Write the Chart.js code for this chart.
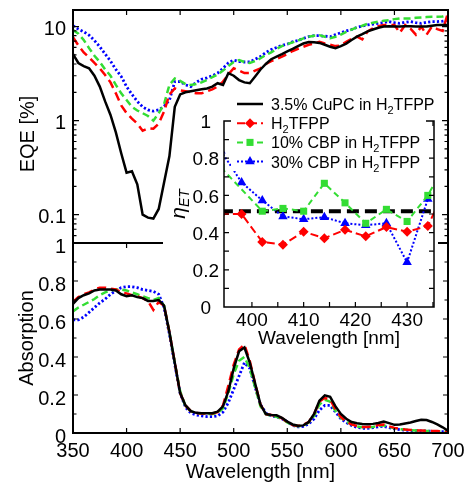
<!DOCTYPE html>
<html>
<head>
<meta charset="utf-8">
<script src="https://cdn.jsdelivr.net/npm/chart.js@4.4.1/dist/chart.umd.min.js"></script>
<style>
html,body{margin:0;padding:0;background:#fff;}
#wrap{position:relative;width:468px;height:487px;overflow:hidden;background:#fff;}
#wrap canvas{position:absolute;left:0;top:0;}
</style>
</head>
<body>
<div id="wrap">
<canvas id="cTop" width="468" height="487"></canvas>
<canvas id="cBot" width="468" height="487"></canvas>
<canvas id="cIn" width="468" height="487"></canvas>
</div>
<script>
// ---------------- DATA ----------------
const wavelength = [350,355,360,365,370,375,380,385,390,395,
  400,405,410,415,420,425,430,435,440,445,
  450,455,460,465,470,475,480,485,490,495,
  500,505,510,515,520,525,530,535,540,545,
  550,555,560,565,570,575,580,585,590,595,
  600,605,610,615,620,625,630,635,640,645,
  650,655,660,665,670,675,680,685,690,695,
  700];

const seriesNames = ['3.5% CuPC in H₂TFPP','H₂TFPP','10% CBP in H₂TFPP','30% CBP in H₂TFPP'];

// EQE [%] (top panel, log scale)
const eqeCuPC = [5.1,4.1,3.8,3.6,3.0,2.3,1.6,1.15,0.75,0.45,
  0.28,0.29,0.21,0.1,0.093,0.091,0.115,0.22,0.42,1.4,
  1.9,2.0,2.05,2.1,2.15,2.2,2.3,2.5,2.4,3.2,
  3.0,2.7,2.55,2.5,2.95,3.5,4.0,4.5,4.8,5.1,
  5.45,5.8,6.2,6.6,6.85,6.8,6.7,6.4,6.1,5.9,
  6.2,6.6,7.2,7.8,8.3,8.9,9.3,9.7,10.0,10.1,
  10.0,10.0,10.1,10.1,10.0,10.0,10.0,10.2,10.4,10.4,
  10.4];
const eqeH2TFPP = [7.7,6.3,5.3,4.7,4.1,3.6,3.05,2.55,1.95,1.45,
  1.2,1.05,0.93,0.78,0.83,0.82,0.93,1.25,1.9,2.2,
  2.1,2.05,2.0,1.95,1.95,2.05,2.15,2.3,2.6,3.1,
  3.6,3.4,3.2,3.2,3.4,3.6,4.0,4.3,4.5,4.8,
  5.1,5.5,5.8,6.1,6.4,6.6,6.9,6.6,6.4,6.2,
  6.3,6.9,7.4,7.8,7.3,8.9,9.6,10.1,10.4,10.4,
  10.4,8.6,10.4,9.5,8.2,10.0,8.2,10.0,9.4,9.0,
  14];
const eqeCBP10 = [9.2,8.4,7.2,5.9,4.9,4.2,3.5,3.0,2.4,1.95,
  1.66,1.4,1.28,1.2,1.12,1.0,1.2,1.5,2.4,2.8,
  2.65,2.45,2.4,2.45,2.55,2.7,2.9,3.1,3.4,3.8,
  4.2,4.4,4.2,4.1,4.3,4.6,5.0,5.3,5.8,6.2,
  6.5,6.8,7.1,7.5,7.8,8.0,8.1,7.8,7.5,7.8,
  8.2,8.8,9.3,9.8,10.2,10.7,11.0,11.3,11.5,11.7,
  12.0,12.2,12.2,12.2,12.4,12.5,12.6,12.7,12.7,12.8,
  13.3];
const eqeCBP30 = [10.2,9.4,8.8,8.1,7.1,6.1,5.1,4.3,3.5,2.95,
  2.3,1.9,1.6,1.4,1.3,1.26,1.3,1.42,1.65,2.6,
  2.6,2.4,2.3,2.55,2.75,2.85,3.0,3.2,3.6,4.1,
  4.4,4.25,4.2,4.2,4.5,4.8,5.3,5.7,6.0,6.3,
  6.5,6.9,7.1,7.5,7.8,8.0,8.0,7.9,7.8,8.2,
  8.6,9.0,9.3,9.8,10.1,10.4,10.6,10.8,11.0,11.3,
  11.0,10.8,11.1,11.3,11.0,10.8,11.1,11.3,11.3,11.4,
  11.7];

// Absorption (bottom panel)
const absCuPC = [0.68,0.71,0.725,0.735,0.75,0.755,0.755,0.755,0.75,0.73,
  0.72,0.725,0.715,0.71,0.695,0.695,0.70,0.67,0.53,0.37,
  0.21,0.145,0.115,0.106,0.104,0.104,0.104,0.112,0.14,0.22,
  0.34,0.43,0.45,0.37,0.26,0.15,0.1,0.095,0.093,0.08,
  0.06,0.045,0.038,0.04,0.058,0.1,0.17,0.198,0.19,0.14,
  0.1,0.075,0.058,0.051,0.048,0.046,0.048,0.053,0.06,0.052,
  0.043,0.045,0.05,0.055,0.063,0.07,0.068,0.058,0.045,0.03,
  0.012];
const absH2TFPP = [0.69,0.715,0.73,0.74,0.755,0.765,0.765,0.76,0.755,0.74,
  0.735,0.725,0.72,0.71,0.695,0.648,0.69,0.67,0.53,0.37,
  0.21,0.145,0.115,0.105,0.103,0.103,0.103,0.11,0.145,0.25,
  0.36,0.44,0.465,0.38,0.26,0.15,0.1,0.095,0.09,0.078,
  0.058,0.042,0.037,0.043,0.058,0.1,0.165,0.185,0.175,0.125,
  0.085,0.06,0.045,0.037,0.032,0.032,0.035,0.042,0.045,0.035,
  0.027,0.022,0.018,0.016,0.014,0.013,0.012,0.011,0.01,0.009,
  0.007];
const absCBP10 = [0.64,0.66,0.675,0.69,0.705,0.725,0.74,0.75,0.755,0.755,
  0.75,0.74,0.73,0.72,0.71,0.70,0.71,0.67,0.53,0.37,
  0.22,0.14,0.115,0.105,0.102,0.1,0.1,0.105,0.13,0.21,
  0.31,0.38,0.40,0.34,0.24,0.14,0.1,0.09,0.085,0.075,
  0.055,0.04,0.035,0.04,0.055,0.09,0.15,0.175,0.165,0.115,
  0.08,0.06,0.045,0.035,0.03,0.03,0.032,0.038,0.04,0.032,
  0.025,0.02,0.018,0.015,0.013,0.012,0.011,0.01,0.009,0.008,
  0.006];
const absCBP30 = [0.595,0.595,0.61,0.635,0.66,0.685,0.705,0.73,0.75,0.765,
  0.77,0.77,0.765,0.755,0.75,0.745,0.73,0.66,0.52,0.36,
  0.21,0.135,0.105,0.095,0.09,0.086,0.086,0.09,0.11,0.16,
  0.23,0.30,0.37,0.34,0.24,0.15,0.105,0.09,0.085,0.075,
  0.06,0.04,0.032,0.035,0.048,0.075,0.12,0.145,0.145,0.11,
  0.075,0.055,0.04,0.03,0.025,0.025,0.028,0.033,0.035,0.028,
  0.022,0.018,0.015,0.013,0.012,0.011,0.01,0.009,0.008,0.007,
  0.006];

// Inset: energy transfer efficiency
const insetWavelength = [394,398,402,406,410,414,418,422,426,430,434,438];
const etaH2TFPP = [0.50,0.50,0.35,0.335,0.405,0.37,0.415,0.38,0.43,0.405,0.435,0.67];
const etaCBP10  = [0.75,null,0.515,0.53,0.515,0.665,0.56,0.45,0.525,0.46,0.60,0.80];
const etaCBP30  = [0.84,0.67,0.573,0.487,0.472,0.483,0.45,0.44,0.45,0.24,0.58,null];
const etaCuPCLevel = [0.515,0.515];

// tick labels
const xTickValues = [350,400,450,500,550,600,650,700];
const eqeTickValues = [0.1,1,10];
const absTickValues = [0,0.2,0.4,0.6,0.8,1];
const etaTickValues = [0,0.2,0.4,0.6,0.8,1];
const insetXTickValues = [400,410,420,430];

// ---------------- STYLE ----------------
const FONT = "'Liberation Sans', Arial, Helvetica, sans-serif";
Chart.defaults.font.family = FONT;
Chart.defaults.color = '#000';
Chart.defaults.animation = false;

const COLORS = ['#000000','#ff0000','#33dd33','#0000ff'];
const MAIN_W = [2.5,2.5,2.5,2.8];
const MAIN_DASH = [[],[9,5],[7,4],[2.2,2.2]];
const IN_W = [4,2,2,2];
const IN_DASH = [[12,6],[8,4],[6,4],[2,2]];
const MARK = [null,'rectRot','rect','triangle'];
const MARK_R = [0,5,5,5.5];

function pts(xs, ys){ return xs.map((x,i)=>({x:x, y:ys[i]})); }
function fixAxis(w,h){ return s => { if(w!=null) s.width=w; if(h!=null) s.height=h; s.paddingLeft=0; s.paddingRight=0; s.paddingTop=0; s.paddingBottom=0; }; }
function setTicks(vals){ return s => { s.ticks = vals.map(v=>({value:v})); }; }
function mainSets(series){
  return series.map((d,i)=>({label:seriesNames[i], data:pts(wavelength,d), borderColor:COLORS[i], backgroundColor:COLORS[i],
    borderWidth:MAIN_W[i], borderDash:MAIN_DASH[i], pointRadius:0, tension:0, fill:false, clip:0}));
}
const noGrid = {display:false, drawTicks:false};

// ---------------- TOP PANEL (EQE) ----------------
const topDecor = {id:'topDecor', afterDraw(chart){
  const {ctx, chartArea:a, scales:{x,y}} = chart;
  ctx.save(); ctx.strokeStyle='#000'; ctx.lineWidth=2;
  ctx.beginPath();
  ctx.moveTo(a.left,a.bottom); ctx.lineTo(a.left,a.top); ctx.lineTo(a.right,a.top); ctx.lineTo(a.right,a.bottom);
  ctx.moveTo(a.left,a.bottom); ctx.lineTo(a.left+90,a.bottom);
  ctx.moveTo(a.right-10,a.bottom); ctx.lineTo(a.right,a.bottom);
  ctx.stroke();
  ctx.lineWidth=1.2; ctx.beginPath();
  for(let d=-2; d<=1; d++){ for(let m=1; m<=9; m++){
    const v=m*Math.pow(10,d); if(v<=y.min||v>=y.max) continue;
    const py=y.getPixelForValue(v); const L=(m===1)?6:3.5;
    ctx.moveTo(a.left,py); ctx.lineTo(a.left+L,py); ctx.moveTo(a.right,py); ctx.lineTo(a.right-L,py);
  }}
  xTickValues.forEach(v=>{ if(v<=x.min||v>=x.max) return; const px=x.getPixelForValue(v); ctx.moveTo(px,a.top); ctx.lineTo(px,a.top+5); });
  ctx.stroke();
  // y title
  ctx.translate(28,134); ctx.rotate(-Math.PI/2);
  ctx.fillStyle='#000'; ctx.font='20px '+FONT; ctx.textAlign='center'; ctx.textBaseline='middle';
  ctx.fillText('EQE [%]',0,0);
  ctx.restore();
}};

new Chart(document.getElementById('cTop'), {
  type:'line',
  data:{datasets: mainSets([eqeCuPC,eqeH2TFPP,eqeCBP10,eqeCBP30])},
  options:{
    responsive:false, animation:false, events:[],
    layout:{padding:{left:15.5, top:10, right:20, bottom:244}},
    plugins:{legend:{display:false}, tooltip:{enabled:false}},
    scales:{
      x:{type:'linear', min:350, max:700, display:false},
      y:{type:'logarithmic', min:0.05, max:15, afterFit:fixAxis(57.5,null), afterBuildTicks:setTicks(eqeTickValues),
         grid:noGrid, border:{display:false},
         ticks:{padding:7, labelOffset:2.5, font:{size:20}, color:'#000', callback:v=>String(v)}}
    }
  },
  plugins:[topDecor]
});

// ---------------- BOTTOM PANEL (Absorption) ----------------
const botDecor = {id:'botDecor', afterDraw(chart){
  const {ctx, chartArea:a, scales:{x,y}} = chart;
  ctx.save(); ctx.strokeStyle='#000'; ctx.lineWidth=2;
  ctx.beginPath();
  ctx.moveTo(a.left,a.top); ctx.lineTo(a.left,a.bottom); ctx.lineTo(a.right,a.bottom); ctx.lineTo(a.right,a.top);
  ctx.stroke();
  ctx.lineWidth=1.2; ctx.beginPath();
  for(let k=1;k<10;k++){ const py=y.getPixelForValue(k/10); const L=(k%2===0)?5:3.5;
    ctx.moveTo(a.left,py); ctx.lineTo(a.left+L,py); ctx.moveTo(a.right,py); ctx.lineTo(a.right-L,py); }
  xTickValues.forEach(v=>{ if(v<=x.min||v>=x.max) return; const px=x.getPixelForValue(v);
    ctx.moveTo(px,a.bottom); ctx.lineTo(px,a.bottom-5);
    if(px<a.left+90){ ctx.moveTo(px,a.top); ctx.lineTo(px,a.top+5); } });
  ctx.stroke();
  ctx.restore();
}};

new Chart(document.getElementById('cBot'), {
  type:'line',
  data:{datasets: mainSets([absCuPC,absH2TFPP,absCBP10,absCBP30])},
  options:{
    responsive:false, animation:false, events:[],
    layout:{padding:{left:15.5, top:243, right:20, bottom:3}},
    plugins:{legend:{display:false}, tooltip:{enabled:false}},
    scales:{
      x:{type:'linear', min:350, max:700, afterFit:fixAxis(null,51), afterBuildTicks:setTicks(xTickValues),
         grid:noGrid, border:{display:false},
         ticks:{padding:6, font:{size:20}, color:'#000', autoSkip:false, maxRotation:0, callback:v=>String(v)},
         title:{display:true, text:'Wavelength [nm]', font:{size:20}, color:'#000', padding:{top:0,bottom:0}}},
      y:{type:'linear', min:0, max:1, afterFit:fixAxis(57.5,null), afterBuildTicks:setTicks(absTickValues),
         grid:noGrid, border:{display:false},
         ticks:{padding:7, labelOffset:4.5, font:{size:20}, color:'#000', callback:v=>String(+v.toFixed(1))},
         title:{display:true, text:'Absorption', font:{size:20}, color:'#000', padding:{top:0,bottom:0}}}
    }
  },
  plugins:[botDecor]
});

// ---------------- INSET (eta_ET) ----------------
function drawSubText(ctx, str, x, y, size){
  const parts = str.split('₂'); let cx = x;
  parts.forEach((p,i)=>{
    ctx.font = size+'px '+FONT; ctx.fillText(p,cx,y); cx += ctx.measureText(p).width;
    if(i<parts.length-1){ const s2=Math.round(size*0.7); ctx.font=s2+'px '+FONT; ctx.fillText('2',cx,y+4); cx += ctx.measureText('2').width; }
  });
}

const insetDecor = {id:'insetDecor', afterDraw(chart){
  const {ctx, chartArea:a, scales:{x,y}} = chart;
  ctx.save(); ctx.strokeStyle='#000'; ctx.lineWidth=1.5;
  ctx.strokeRect(a.left,a.top,a.right-a.left,a.bottom-a.top);
  ctx.lineWidth=1.2; ctx.beginPath();
  for(let k=1;k<10;k++){ const py=y.getPixelForValue(k/10);
    ctx.moveTo(a.left,py); ctx.lineTo(a.left+5,py); ctx.moveTo(a.right,py); ctx.lineTo(a.right-5,py); }
  for(let v=400; v<x.max; v+=5){ const px=x.getPixelForValue(v);
    ctx.moveTo(px,a.bottom); ctx.lineTo(px,a.bottom-5); ctx.moveTo(px,a.top); ctx.lineTo(px,a.top+5); }
  ctx.stroke();

  // legend (white box)
  ctx.fillStyle='#fff';
  ctx.fillRect(a.left+7, a.top-27, (a.right-8)-(a.left+7), 77);
  for(let i=0;i<4;i++){
    const ry = a.top-17+19.2*i;
    const x1=a.left+13, x2=a.left+39, xm=a.left+26;
    ctx.save();
    ctx.strokeStyle=COLORS[i]; ctx.lineWidth=(i===0)?2.5:2; ctx.setLineDash(i===0?[]:IN_DASH[i]);
    ctx.beginPath(); ctx.moveTo(x1,ry); ctx.lineTo(x2,ry); ctx.stroke();
    ctx.setLineDash([]);
    if(MARK[i]){ ctx.fillStyle=COLORS[i]; ctx.strokeStyle=COLORS[i];
      Chart.helpers.drawPoint(ctx,{pointStyle:MARK[i], radius:MARK_R[i], rotation:0, borderWidth:0}, xm, ry); }
    ctx.restore();
    ctx.fillStyle='#000'; ctx.textAlign='left'; ctx.textBaseline='alphabetic';
    drawSubText(ctx, seriesNames[i], a.left+47, ry+6, 16);
  }

  // y title eta_ET
  ctx.translate(a.left-39, (a.top+a.bottom)/2-10); ctx.rotate(-Math.PI/2);
  ctx.fillStyle='#000'; ctx.textBaseline='alphabetic'; ctx.textAlign='left';
  ctx.font='italic 21px '+FONT; const w1=ctx.measureText('η').width;
  ctx.font='italic 14px '+FONT; const w2=ctx.measureText('ET').width;
  const sx=-(w1+w2)/2;
  ctx.font='italic 21px '+FONT; ctx.fillText('η',sx,0);
  ctx.font='italic 14px '+FONT; ctx.fillText('ET',sx+w1,4);
  ctx.restore();
}};

const insetSeries = [
  pts([insetWavelength[0], insetWavelength[insetWavelength.length-1]], etaCuPCLevel),
  pts(insetWavelength, etaH2TFPP),
  pts(insetWavelength, etaCBP10),
  pts(insetWavelength, etaCBP30)
];
const insetSets = insetSeries.map((d,i)=>({
  label:seriesNames[i], data:d, borderColor:COLORS[i], backgroundColor:COLORS[i],
  borderWidth:IN_W[i], borderDash:IN_DASH[i], pointStyle:MARK[i]||'circle', pointRadius:MARK_R[i],
  pointBorderWidth:0, pointBackgroundColor:COLORS[i], spanGaps:true, tension:0, fill:false, clip:0,
  order:(i===0)?5:i
}));

new Chart(document.getElementById('cIn'), {
  type:'line',
  data:{datasets: insetSets},
  options:{
    responsive:false, animation:false, events:[],
    layout:{padding:{left:174, top:121, right:34, bottom:137}},
    plugins:{legend:{display:false}, tooltip:{enabled:false}},
    scales:{
      x:{type:'linear', min:394.6, max:435.2, afterFit:fixAxis(null,43), afterBuildTicks:setTicks(insetXTickValues),
         grid:noGrid, border:{display:false},
         ticks:{padding:2, font:{size:19}, color:'#000', autoSkip:false, maxRotation:0, callback:v=>String(v)},
         title:{display:true, text:'Wavelength [nm]', font:{size:19}, color:'#000', padding:{top:0,bottom:0}}},
      y:{type:'linear', min:0, max:1, afterFit:fixAxis(50,null), afterBuildTicks:setTicks(etaTickValues),
         grid:noGrid, border:{display:false},
         ticks:{padding:5, labelOffset:2, crossAlign:'center', font:{size:19}, color:'#000', callback:v=>String(+v.toFixed(1))}}
    }
  },
  plugins:[insetDecor]
});
</script>
</body>
</html>
